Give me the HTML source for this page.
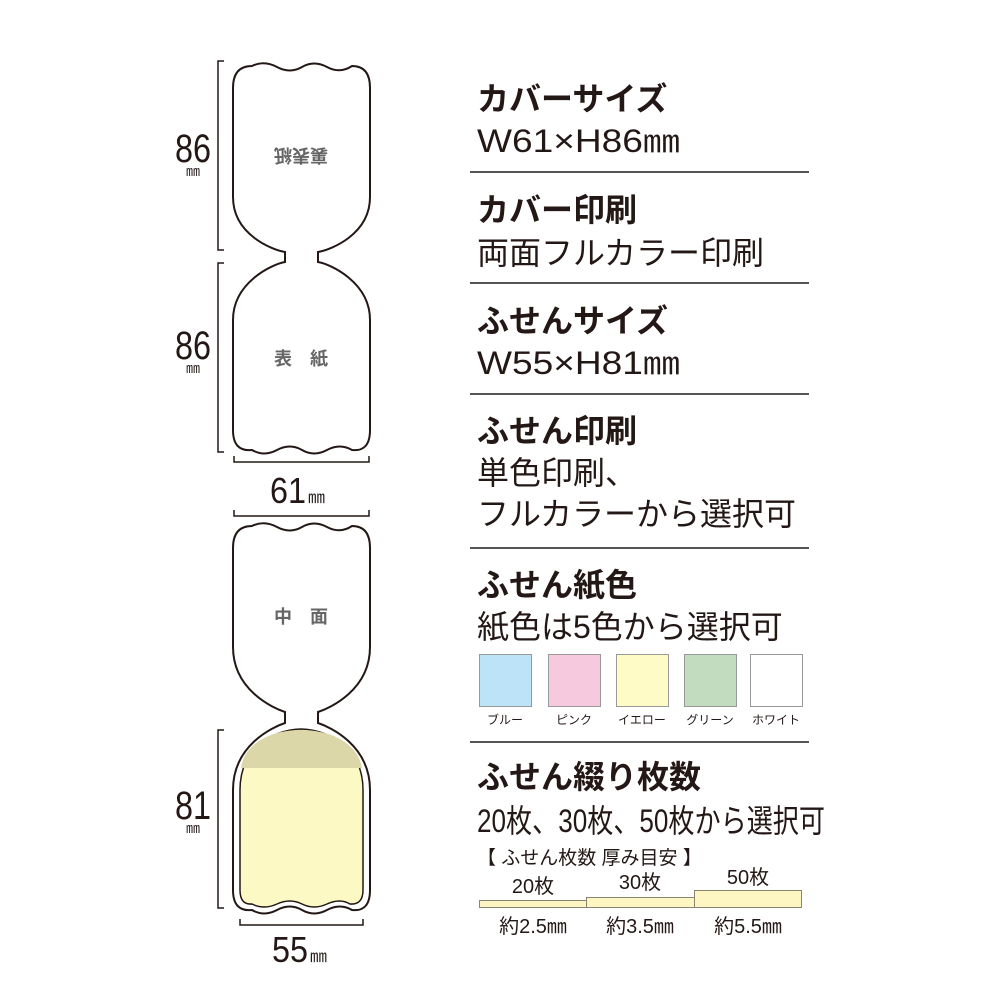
<!DOCTYPE html>
<html><head><meta charset="utf-8"><style>
html,body{margin:0;padding:0;background:#fff}
svg{display:block}
text{font-family:"Liberation Sans","Noto Sans CJK JP",sans-serif;fill:#231815}
.h{font-size:32px;font-weight:bold}
.s{font-size:32px}
.g{fill:#666;font-size:18px;font-weight:bold}
</style></head><body>
<svg width="1000" height="1000" viewBox="0 0 1000 1000" xmlns="http://www.w3.org/2000/svg">
<g fill="#fff" stroke="#231815" stroke-width="2">
<path d="M233 88 Q233 66 252 66 Q264 60 277 67 Q290 74 302 67 Q314 60 327 67 Q340 74 352 66 Q370 66 370 88 L370 197 C370 235 330 250 318 252 L318 262 C330 264 370 282 370 320 L370 430 Q370 452 352 450 Q340 443 327 450 Q314 457 302 450 Q290 443 277 450 Q264 457 252 450 Q233 452 233 430 L233 320 C233 282 273 264 285 262 L285 252 C273 250 233 235 233 197 Z"/>
<path d="M233 548 Q233 526 252 526 Q264 520 277 527 Q290 534 302 527 Q314 520 327 527 Q340 534 352 526 Q370 526 370 548 L370 647 C370 690 330 708 318 712 L318 723 C330 727 370 745 370 790 L370 890 Q370 912 352 910 Q340 903 327 910 Q314 917 302 910 Q290 903 277 910 Q264 917 252 910 Q233 912 233 890 L233 790 C233 745 273 727 285 723 L285 712 C273 708 233 690 233 647 Z"/>
</g>
<path d="M240 790 C240 750 270 730 301 729 C332 730 363 750 363 790 L363 890 Q363 905 350 904 Q340 898 327 904 Q314 910 302 904 Q290 898 277 904 Q264 910 252 904 Q240 905 240 890 Z" fill="#fdf9c4" stroke="#231815" stroke-width="1.5"/>
<path d="M241 768 C244 744 270 730 301 730 C332 730 358 744 362 768 Z" fill="#dcd7a8"/>
<g fill="none" stroke="#231815" stroke-width="1.5">
<path d="M224 61 H218 V250 H224"/><path d="M224 263 H218 V452 H224"/>
<path d="M234 456 V462 H369 V456"/><path d="M234 510 V516 H369 V510"/>
<path d="M224 730 H218 V908 H224"/><path d="M240 919 V925 H363 V919"/>
</g>
<text x="175" y="162" font-size="40" textLength="36" lengthAdjust="spacingAndGlyphs">86</text><text x="193" y="176" font-size="14" text-anchor="middle">㎜</text>
<text x="175" y="359" font-size="40" textLength="36" lengthAdjust="spacingAndGlyphs">86</text><text x="193" y="373" font-size="14" text-anchor="middle">㎜</text>
<text x="175" y="819" font-size="40" textLength="36" lengthAdjust="spacingAndGlyphs">81</text><text x="193" y="833" font-size="14" text-anchor="middle">㎜</text>
<text x="270" y="503" font-size="36" textLength="36" lengthAdjust="spacingAndGlyphs">61</text><text x="308" y="503" font-size="17">㎜</text>
<text x="272" y="962" font-size="36" textLength="36" lengthAdjust="spacingAndGlyphs">55</text><text x="310" y="962" font-size="17">㎜</text>
<text class="g" transform="translate(301,155) rotate(180)" text-anchor="middle" y="6">裏表紙</text>
<text class="g" x="301" y="365" text-anchor="middle">表　紙</text>
<text class="g" x="301" y="623" text-anchor="middle">中　面</text>
<g stroke="#555" stroke-width="2"><path d="M470 172H809M470 283H809M470 394H809M470 548H809M470 742H809"/></g>
<text class="h" x="477" y="110">カバーサイズ</text>
<text class="s" x="477" y="152" textLength="203" lengthAdjust="spacingAndGlyphs">W61×H86㎜</text>
<text class="h" x="477" y="221">カバー印刷</text>
<text class="s" x="477" y="264">両面フルカラー印刷</text>
<text class="h" x="477" y="332">ふせんサイズ</text>
<text class="s" x="477" y="374" textLength="203" lengthAdjust="spacingAndGlyphs">W55×H81㎜</text>
<text class="h" x="477" y="442">ふせん印刷</text>
<text class="s" x="477" y="484">単色印刷、</text>
<text class="s" x="477" y="525">フルカラーから選択可</text>
<text class="h" x="477" y="596">ふせん紙色</text>
<text class="s" x="477" y="638">紙色は5色から選択可</text>
<g stroke="#999" stroke-width="1">
<rect x="479.5" y="654.5" width="52" height="52" fill="#bde3f8"/>
<rect x="548.5" y="654.5" width="52" height="52" fill="#f7c9de"/>
<rect x="616.5" y="654.5" width="52" height="52" fill="#fefbc6"/>
<rect x="684.5" y="654.5" width="52" height="52" fill="#c2dcc0"/>
<rect x="750.5" y="654.5" width="52" height="52" fill="#fff"/>
</g>
<g font-size="12" text-anchor="middle"><text x="505" y="724">ブルー</text><text x="574" y="724">ピンク</text><text x="642" y="724">イエロー</text><text x="710" y="724">グリーン</text><text x="776" y="724">ホワイト</text></g>
<text class="h" x="477" y="788">ふせん綴り枚数</text>
<text class="s" x="477" y="832" textLength="348" lengthAdjust="spacingAndGlyphs">20枚、30枚、50枚から選択可</text>
<text x="477" y="864" font-size="19">【 ふせん枚数 厚み目安 】</text>
<g fill="#fdf6c3" stroke="#8a8570" stroke-width="1">
<rect x="479.5" y="900.5" width="107" height="7"/><rect x="586.5" y="897.5" width="108" height="10"/><rect x="694.5" y="890.5" width="107" height="17"/>
</g>
<g font-size="20" text-anchor="middle"><text x="533" y="893">20枚</text><text x="640" y="889">30枚</text><text x="748" y="884">50枚</text>
<text x="533" y="933">約2.5㎜</text><text x="640" y="933">約3.5㎜</text><text x="748" y="933">約5.5㎜</text></g>
</svg>
</body></html>
